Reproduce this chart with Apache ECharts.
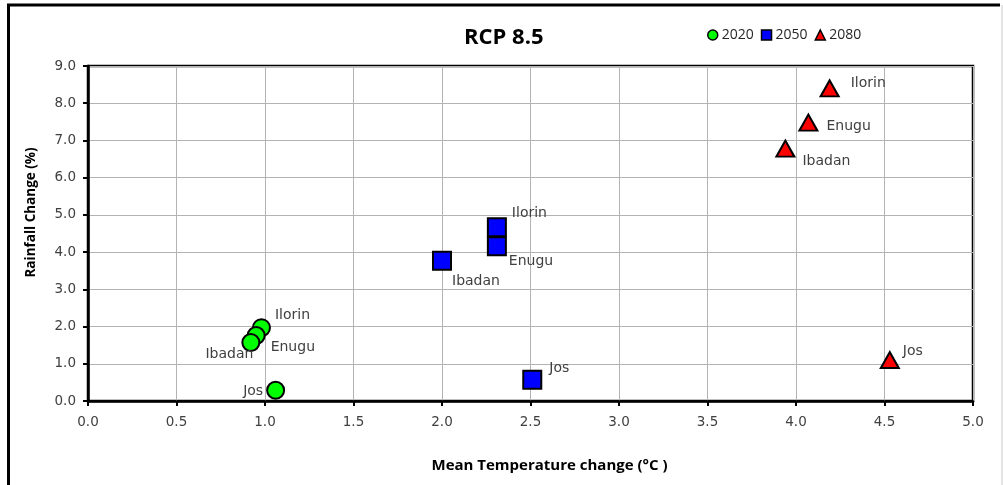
<!DOCTYPE html>
<html>
<head>
<meta charset="utf-8">
<script src="https://cdn.jsdelivr.net/npm/echarts@6/dist/echarts.min.js"></script>
<style>html,body{margin:0;padding:0;background:#fff;}#c{width:1003px;height:485px;}</style>
</head>
<body>
<div id="c"></div>
<script>
var cities = ['Ilorin', 'Enugu', 'Ibadan', 'Jos'];
var seriesNames = ['2020', '2050', '2080'];
var temp2020 = [0.98, 0.95, 0.92, 1.06];
var rain2020 = [1.97, 1.76, 1.57, 0.29];
var temp2050 = [2.31, 2.31, 2.00, 2.51];
var rain2050 = [4.67, 4.16, 3.77, 0.57];
var temp2080 = [4.19, 4.07, 3.94, 4.53];
var rain2080 = [8.40, 7.48, 6.78, 1.10];
var xTicks = ['0.0','0.5','1.0','1.5','2.0','2.5','3.0','3.5','4.0','4.5','5.0'];
var yTicks = ['0.0','1.0','2.0','3.0','4.0','5.0','6.0','7.0','8.0','9.0'];

// label placement (style, not data)
var labelPlace = {
  '2020': {Ilorin: ['right', [-1, -12]], Enugu: ['right', [0, 12]], Ibadan: ['left', [17, 12]], Jos: ['left', [2, 1]]},
  '2050': {Ilorin: ['right', [0, -14]], Enugu: ['right', [-3, 15]], Ibadan: ['right', [-5, 21]], Jos: ['right', [2, -11]]},
  '2080': {Ilorin: ['right', [6, -5]], Enugu: ['right', [3, 4]], Ibadan: ['right', [2, 13]], Jos: ['right', [-2, -9]]}
};

var FONT = '"Open Sans", "Noto Sans", sans-serif';
var WFONT = '"DejaVu Sans", sans-serif';

function buildData(name, xs, ys) {
  return cities.map(function (c, i) {
    var p = labelPlace[name][c];
    return {
      value: [xs[i], ys[i]],
      name: c,
      label: {show: true, position: p[0], offset: p[1], formatter: c,
        color: '#404040', fontSize: 14, fontFamily: WFONT}
    };
  });
}

var styles = {
  '2020': {symbol: 'circle', size: 17, color: '#00ff00'},
  '2050': {symbol: 'rect', size: 18, color: '#0000ff'},
  '2080': {symbol: 'triangle', size: [18, 16], color: '#ff0000'}
};
var xsAll = [temp2020, temp2050, temp2080];
var ysAll = [rain2020, rain2050, rain2080];

var series = seriesNames.map(function (n, k) {
  var s = styles[n];
  return {
    name: n,
    type: 'scatter',
    symbol: s.symbol,
    symbolSize: s.size,
    itemStyle: {color: s.color, borderColor: '#000', borderWidth: 2, opacity: 1},
    data: buildData(n, xsAll[k], ysAll[k]),
    z: 5
  };
});

var chart = echarts.init(document.getElementById('c'), null, {renderer: 'canvas'});
chart.setOption({
  animation: false,
  backgroundColor: '#fff',
  title: {
    text: 'RCP 8.5', left: 459, top: 22,
    textStyle: {fontFamily: FONT, fontWeight: 'bold', fontSize: 22, color: '#000'}
  },
  legend: {
    data: seriesNames.map(function (n) {
      return {name: n, icon: styles[n].symbol};
    }),
    left: 702, top: 23, itemWidth: 10, itemHeight: 10, itemGap: 7,
    textStyle: {fontFamily: FONT, fontSize: 14, color: '#262626', padding: [0, 0, 0, -1]},
    itemStyle: {borderColor: '#000', borderWidth: 1.5}
  },
  grid: {
    left: 88, right: 30, top: 66, bottom: 84,
    show: true, borderColor: '#000', borderWidth: 2.5, backgroundColor: 'transparent'
  },
  xAxis: {
    type: 'value', min: 0, max: 5, interval: 0.5,
    name: 'Mean Temperature change (°C )', nameLocation: 'middle', nameGap: 57,
    nameTextStyle: {fontFamily: FONT, fontWeight: 'bold', fontSize: 15, color: '#000', padding: [0, 0, 0, 38]},
    axisLine: {show: true, lineStyle: {color: '#000', width: 2.5}},
    axisTick: {show: true, inside: false, length: 5, lineStyle: {color: '#000', width: 2}},
    splitLine: {show: true, lineStyle: {color: '#b3b3b3', width: 1}},
    axisLabel: {fontFamily: WFONT, fontSize: 13.5, color: '#404040', margin: 14,
      formatter: function (v) { return xTicks[Math.round(v * 2)]; }}
  },
  yAxis: {
    type: 'value', min: 0, max: 9, interval: 1,
    name: 'Rainfall Change (%)', nameLocation: 'middle', nameGap: 50, nameRotate: 90,
    nameTextStyle: {fontFamily: FONT, fontWeight: 'bold', fontSize: 13.5, color: '#000', padding: [0, 0, 0, 42]},
    axisLine: {show: true, lineStyle: {color: '#000', width: 2.5}},
    axisTick: {show: true, inside: false, length: 5, lineStyle: {color: '#000', width: 2}},
    splitLine: {show: true, lineStyle: {color: '#b3b3b3', width: 1}},
    axisLabel: {fontFamily: WFONT, fontSize: 13.5, color: '#404040', margin: 12,
      formatter: function (v) { return yTicks[Math.round(v)]; }}
  },
  graphic: [
    {type: 'line', shape: {x1: 8.5, y1: 5, x2: 8.5, y2: 485}, style: {stroke: '#000', lineWidth: 3}},
    {type: 'line', shape: {x1: 7, y1: 5, x2: 1000, y2: 5}, style: {stroke: '#000', lineWidth: 3}},
    {type: 'line', shape: {x1: 1002, y1: 5, x2: 1002, y2: 485}, style: {stroke: '#c8c8c8', lineWidth: 1}}
  ],
  series: series
});
</script>
</body>
</html>
